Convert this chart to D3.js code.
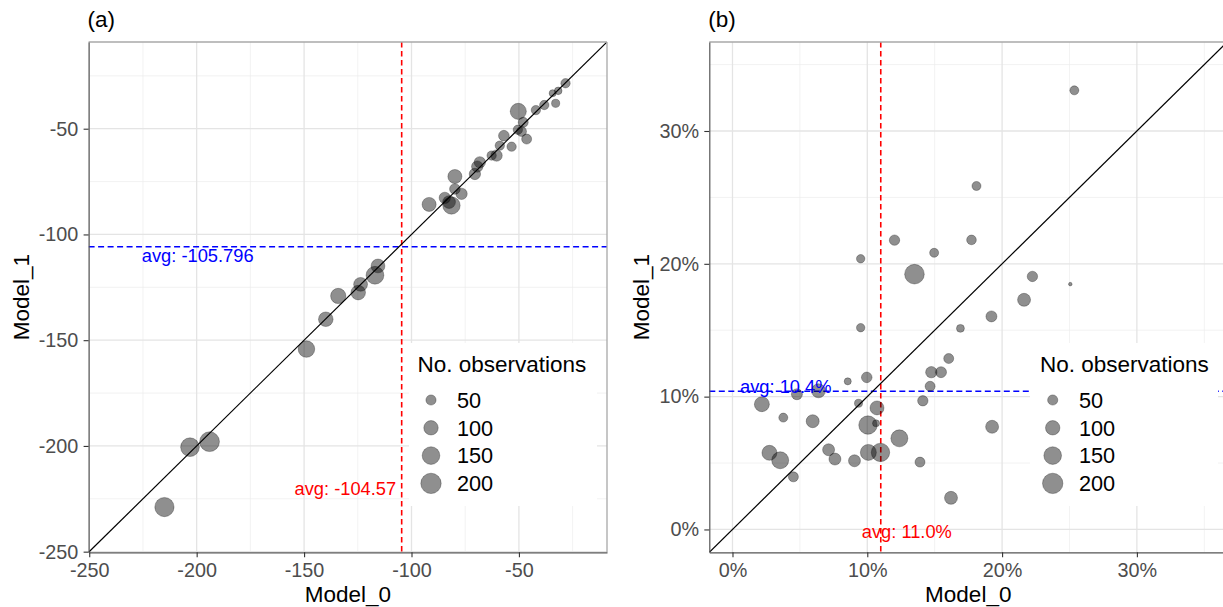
<!DOCTYPE html>
<html><head><meta charset="utf-8">
<script src="https://cdn.jsdelivr.net/npm/d3@7"></script>
<style>
body{margin:0;background:#fff}
text{font-family:"Liberation Sans",Arial,Helvetica,sans-serif}
</style>
</head><body>
<svg id="chart" width="1223" height="607"></svg>
<script>
// ---------------- data ----------------
// Panel (a): Model_0 vs Model_1 (raw values), size = No. observations
const aModel0 = [-28.3,-31.7,-34.3,-32.9,-38.2,-42.1,-50.3,-48.0,-48.8,-50.5,-46.4,-57.0,-53.4,-58.9,-60.4,-62.7,-68.2,-69.4,-70.5,-79.8,-79.8,-76.7,-84.5,-82.5,-81.4,-91.8,
                 -115.6,-117.0,-123.7,-124.8,-134.1,-139.9,-148.9,-194.0,-203.1,-215.0];
const aModel1 = [-28.5,-32.1,-33.2,-38.0,-38.8,-41.2,-41.8,-47.0,-51.3,-50.5,-54.9,-53.3,-58.5,-58.0,-62.7,-62.7,-65.9,-67.9,-71.4,-72.6,-78.5,-80.8,-82.7,-84.7,-86.3,-85.8,
                 -114.9,-119.3,-123.6,-127.5,-129.1,-140.1,-154.2,-198.0,-200.6,-228.9];
const aObs    = [42,28,24,32,42,42,125,48,48,42,48,55,42,42,62,42,62,62,62,95,55,62,62,78,145,95,
                 92,152,92,102,112,102,132,188,168,178];
// Panel (b): Model_0 vs Model_1 (shares)
const bModel0 = [0.2536,0.1810,0.1202,0.1773,0.1496,0.0951,0.1350,0.2225,0.2506,0.2163,0.1921,0.1691,0.0951,
                 0.1604,0.1475,0.1547,0.0996,0.0855,0.1466,0.0478,0.0638,0.0218,0.0935,0.1072,0.1412,
                 0.0377,0.0595,0.1005,0.1065,0.1926,0.1238,0.0274,0.0354,0.0713,0.0760,0.0905,0.1008,0.1098,0.1391,0.0452,0.1621];
const bModel1 = [0.3306,0.2586,0.2178,0.2180,0.2083,0.2038,0.1922,0.1905,0.1847,0.1729,0.1604,0.1514,0.1519,
                 0.1287,0.1184,0.1184,0.1145,0.1115,0.1078,0.1018,0.1044,0.0943,0.0950,0.0915,0.0969,
                 0.0842,0.0815,0.0786,0.0799,0.0773,0.0686,0.0577,0.0521,0.0600,0.0530,0.0517,0.0580,0.0580,0.0507,0.0396,0.0238];
const bObs    = [39,39,52,45,39,34,185,52,6,81,58,30,34,
                 48,62,58,54,24,48,58,94,108,31,94,52,
                 39,81,163,24,81,139,108,139,69,69,69,123,163,48,48,81];
const aAvgModel0 = -104.57, aAvgModel1 = -105.796;
const bAvgModel0 = 0.110,   bAvgModel1 = 0.104;
const aTicks = [-250,-200,-150,-100,-50];
const aMinorTicks = [-225,-175,-125,-75,-25];
const bTicks = [0,0.1,0.2,0.3];
const bMinorTicks = [0.05,0.15,0.25,0.35];
const legendObs = [50,100,150,200];
const panelTags = ["(a)","(b)"];
const xTitle = "Model_0", yTitle = "Model_1", legendTitle = "No. observations";

// ---------------- drawing ----------------
const svg = d3.select("#chart");
svg.append("rect").attr("width",1223).attr("height",607).attr("fill","#fff");
const size = d3.scaleSqrt().domain([0,200]).range([0,10.2]);

function drawPanel(cfg, idx){
  const {left,right,top,bottom,domain,ticks,minor,fmt,m0,m1,obs,avgX,avgY,avgXLabel,avgYLabel} = cfg;
  const x = d3.scaleLinear().domain(domain).range([left,right]);
  const y = d3.scaleLinear().domain(domain).range([bottom,top]);
  const g = svg.append("g");
  const clipId = "clip"+idx;
  g.append("clipPath").attr("id",clipId).append("rect")
    .attr("x",left).attr("y",top).attr("width",right-left).attr("height",bottom-top);
  const pg = g.append("g").attr("clip-path",`url(#${clipId})`);

  // grid
  pg.selectAll(".mnx").data(minor).join("line")
    .attr("x1",d=>x(d)).attr("x2",d=>x(d)).attr("y1",top).attr("y2",bottom)
    .attr("stroke","#ececec").attr("stroke-width",0.7);
  pg.selectAll(".mny").data(minor).join("line")
    .attr("y1",d=>y(d)).attr("y2",d=>y(d)).attr("x1",left).attr("x2",right)
    .attr("stroke","#ececec").attr("stroke-width",0.7);
  pg.selectAll(".mjx").data(ticks).join("line")
    .attr("x1",d=>x(d)).attr("x2",d=>x(d)).attr("y1",top).attr("y2",bottom)
    .attr("stroke","#e4e4e4").attr("stroke-width",1.3);
  pg.selectAll(".mjy").data(ticks).join("line")
    .attr("y1",d=>y(d)).attr("y2",d=>y(d)).attr("x1",left).attr("x2",right)
    .attr("stroke","#e4e4e4").attr("stroke-width",1.3);

  // avg lines
  pg.append("line").attr("x1",x(avgX)).attr("x2",x(avgX)).attr("y1",top).attr("y2",bottom)
    .attr("stroke","#ff0000").attr("stroke-width",1.6).attr("stroke-dasharray","5.5,3.5");
  pg.append("line").attr("y1",y(avgY)).attr("y2",y(avgY)).attr("x1",left).attr("x2",right)
    .attr("stroke","#0000ff").attr("stroke-width",1.5).attr("stroke-dasharray","6,3.5");

  // identity line
  pg.append("path").attr("d", d3.line().x(d=>x(d)).y(d=>y(d))(domain))
    .attr("stroke","#000").attr("stroke-width",1.2).attr("fill","none");

  // points
  const pts = m0.map((v,i)=>({x:v,y:m1[i],n:obs[i]}));
  pg.selectAll("circle.pt").data(pts).join("circle").attr("class","pt")
    .attr("cx",d=>x(d.x)).attr("cy",d=>y(d.y)).attr("r",d=>size(d.n))
    .attr("fill","#000").attr("fill-opacity",0.44)
    .attr("stroke","#000").attr("stroke-opacity",0.28).attr("stroke-width",1);

  // avg labels
  g.append("text").attr("x",x(avgX)+avgXLabel.dx).attr("y",avgXLabel.y)
    .attr("text-anchor",avgXLabel.anchor).attr("fill","#ff0000").attr("font-size",18.3)
    .text("avg: "+avgXLabel.fmt(avgX));
  g.append("text").attr("x",avgYLabel.x).attr("y",y(avgY)+avgYLabel.dy)
    .attr("text-anchor",avgYLabel.anchor).attr("fill","#0000ff").attr("font-size",18.3)
    .text("avg: "+avgYLabel.fmt(avgY));

  // legend
  const lg = g.append("g").attr("transform",`translate(${right-cfg.legendRightGap-188},343)`);
  lg.append("rect").attr("width",188).attr("height",163).attr("fill","#fff");
  lg.append("text").attr("x",cfg.legendTitleDx).attr("y",29).attr("font-size",22.5).attr("fill","#000").text(legendTitle);
  const rows = lg.selectAll("g.row").data(legendObs).join("g").attr("class","row")
    .attr("transform",(d,i)=>`translate(0,${57+i*27.8})`);
  rows.append("circle").attr("cx",cfg.legendCircleDx).attr("cy",0).attr("r",d=>size(d))
    .attr("fill","#000").attr("fill-opacity",0.44)
    .attr("stroke","#000").attr("stroke-opacity",0.28).attr("stroke-width",1);
  rows.append("text").attr("x",cfg.legendLabelDx).attr("y",7.8).attr("font-size",21.7).attr("fill","#000").text(d=>d);

  // border (top/right light)
  g.append("line").attr("x1",left).attr("x2",right).attr("y1",top).attr("y2",top).attr("stroke","#a8a8a8").attr("stroke-width",1.3);
  g.append("line").attr("x1",right).attr("x2",right).attr("y1",top).attr("y2",bottom).attr("stroke","#a8a8a8").attr("stroke-width",1.3);

  // axes
  const xa = g.append("g").attr("transform",`translate(0,${bottom})`)
    .call(d3.axisBottom(x).tickValues(ticks).tickFormat(fmt).tickSize(5).tickPadding(6).tickSizeOuter(0));
  const ya = g.append("g").attr("transform",`translate(${left},0)`)
    .call(d3.axisLeft(y).tickValues(ticks).tickFormat(fmt).tickSize(5).tickPadding(5.3).tickSizeOuter(0));
  [xa,ya].forEach(a=>{
    a.select(".domain").attr("stroke","#555").attr("stroke-width",1.2);
    a.selectAll(".tick line").attr("stroke","#333").attr("stroke-width",1.1);
    a.selectAll(".tick text").attr("fill","#4d4d4d").attr("font-size",19.8)
      .attr("font-family",'"Liberation Sans",Arial,Helvetica,sans-serif');
  });

  // titles
  g.append("text").attr("x",(left+right)/2).attr("y",602).attr("text-anchor","middle")
    .attr("font-size",22.5).attr("fill","#000").text(xTitle);
  g.append("text").attr("transform",`translate(${left-60},${(top+bottom)/2}) rotate(-90)`)
    .attr("text-anchor","middle").attr("font-size",22.5).attr("fill","#000").text(yTitle);
  g.append("text").attr("x",left-1).attr("y",27).attr("font-size",22.5).attr("fill","#000").text(panelTags[idx]);
}

// hyphen-minus formatting as in the reference
const plain = d => String(d);
const pct = d => Math.round(d*100) + "%";
const pct1 = d => (d*100).toFixed(1) + "%";

drawPanel({
  left:88.6, right:607, top:42, bottom:552.3, domain:[-250.3,-9.0],
  ticks:aTicks, minor:aMinorTicks, fmt:plain,
  m0:aModel0, m1:aModel1, obs:aObs, avgX:aAvgModel0, avgY:aAvgModel1,
  avgXLabel:{dx:-5.5, y:495, anchor:"end", fmt:plain},
  avgYLabel:{x:197.7, dy:15.4, anchor:"middle", fmt:plain},
  legendRightGap:10, legendTitleDx:8.5, legendCircleDx:22, legendLabelDx:48
},0);

drawPanel({
  left:709.3, right:1227.2, top:42, bottom:552.3, domain:[-0.0172,0.367],
  ticks:bTicks, minor:bMinorTicks, fmt:pct,
  m0:bModel0, m1:bModel1, obs:bObs, avgX:bAvgModel0, avgY:bAvgModel1,
  avgXLabel:{dx:-19, y:537.5, anchor:"start", fmt:pct1},
  avgYLabel:{x:740, dy:1.5, anchor:"start", fmt:pct1},
  legendRightGap:9.2, legendTitleDx:10, legendCircleDx:22.7, legendLabelDx:49
},1);
</script>
</body></html>
